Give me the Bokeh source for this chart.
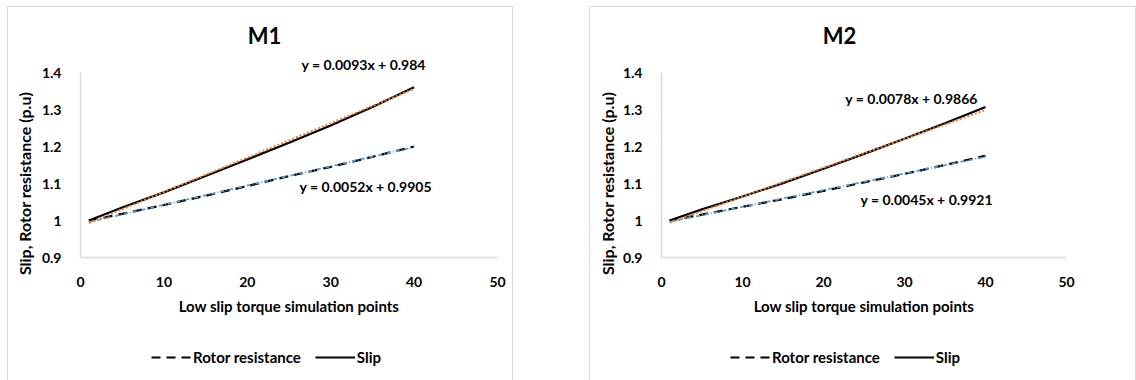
import math
from bokeh.plotting import figure
from bokeh.models import Legend, LegendItem, Label, FixedTicker, Range1d, Spacer
from bokeh.layouts import row, column
from bokeh.embed import file_html
from bokeh.resources import INLINE

# ---- data ----
x_points = [1, 5, 10, 15, 20, 25, 30, 35, 40]
m1_slip = [1.000, 1.035, 1.076, 1.120, 1.165, 1.210, 1.257, 1.307, 1.360]
m1_rotor = [1.000, 1.018, 1.042, 1.067, 1.093, 1.120, 1.145, 1.172, 1.200]
m2_slip = [1.000, 1.030, 1.065, 1.101, 1.140, 1.180, 1.221, 1.263, 1.307]
m2_rotor = [1.000, 1.016, 1.037, 1.058, 1.080, 1.103, 1.126, 1.150, 1.175]
m1_slip_fit = (0.0093, 0.984)
m1_rotor_fit = (0.0052, 0.9905)
m2_slip_fit = (0.0078, 0.9866)
m2_rotor_fit = (0.0045, 0.9921)
titles = ["M1", "M2"]
series_names = ["Rotor resistance", "Slip"]
x_ticks = [0, 10, 20, 30, 40, 50]
y_ticks = [0.9, 1.0, 1.1, 1.2, 1.3, 1.4]
y_tick_labels = ["0.9", "1", "1.1", "1.2", "1.3", "1.4"]
x_title = "Low slip torque simulation points"
y_title = "Slip, Rotor resistance (p.u)"

FONT = "Lato"
TXT = "#000000"
GRIDC = "#d9d9d9"
FIG_H = 374           # figure height (page y 6..380)
AX_TOP_PX = 65        # pixel offset of y=1.4 from figure top
AX_BOT_PX = 250       # pixel offset of y=0.9 from figure top


def eq_text(fit):
    s, b = fit
    return "y = %gx + %g" % (s, b)


def panel(title, slip, rotor, slip_fit, rotor_fit, width, left, frame_w,
          title_x, slip_eq_pos, rotor_eq_pos, legend_x, ytitle_px):
    y0, y1 = y_ticks[0], y_ticks[-1]
    x0, x1 = x_ticks[0], x_ticks[-1]
    upp = (y1 - y0) / (AX_BOT_PX - AX_TOP_PX)
    xpp = (x1 - x0) / frame_w
    p = figure(width=width, height=FIG_H, output_backend="svg",
               toolbar_location=None,
               x_range=Range1d(x0 - left * xpp, x1 + (width - left - frame_w) * xpp),
               y_range=Range1d(y0 - (FIG_H - AX_BOT_PX) * upp, y1 + AX_TOP_PX * upp),
               min_border=0)
    p.styles = {"border-left": "1px solid #d9d9d9", "border-top": "1px solid #d9d9d9",
                "border-right": "1px solid #d9d9d9"}
    p.outline_line_color = None
    p.xgrid.visible = False
    p.ygrid.visible = False
    for ax in (p.xaxis[0], p.yaxis[0]):
        ax.axis_line_color = GRIDC
        ax.axis_line_width = 1.5
        ax.major_tick_line_color = None
        ax.minor_tick_line_color = None
        ax.major_label_text_font = FONT
        ax.major_label_text_font_style = "bold"
        ax.major_label_text_font_size = "14px"
        ax.major_label_text_color = TXT
        ax.axis_label_text_font = FONT
        ax.axis_label_text_font_style = "bold"
        ax.axis_label_text_font_size = "15px"
        ax.axis_label_text_color = TXT
    p.xaxis.fixed_location = y0
    p.yaxis.fixed_location = x0
    p.xaxis.bounds = (x0, x1)
    p.yaxis.bounds = (y0, y1)
    p.xaxis.ticker = FixedTicker(ticks=x_ticks)
    p.yaxis.ticker = FixedTicker(ticks=y_ticks)
    p.yaxis.major_label_overrides = {t: l for t, l in zip(y_ticks, y_tick_labels)}
    p.xaxis.major_label_standoff = 13
    p.yaxis.major_label_standoff = 13
    p.xaxis.axis_label = x_title
    p.xaxis.axis_label_standoff = 7

    # y axis title placed as a rotated label (centered like the reference)
    p.add_layout(Label(x=x0 - (left - ytitle_px) * xpp, y=y1 - 111 * upp,
                       text=y_title, angle=math.pi / 2, text_font=FONT,
                       text_font_style="bold", text_font_size="16px",
                       text_color=TXT, text_align="center", text_baseline="middle"))

    r_rotor = p.line(x_points, rotor, line_color="black", line_width=2.2,
                     line_dash="9 6")
    r_slip = p.line(x_points, slip, line_color="black", line_width=2.2)
    xs = [x_points[0], x_points[-1]]
    p.line(xs, [rotor_fit[0] * v + rotor_fit[1] for v in xs],
           line_color="#5B9BD5", line_width=1.8, line_dash="4 2 1 2")
    p.line(xs, [slip_fit[0] * v + slip_fit[1] for v in xs],
           line_color="#ED7D31", line_width=2, line_dash="2 2")

    p.add_layout(Label(x=title_x, y=y1 + 37 * upp, text=title, text_font=FONT,
                       text_font_style="bold", text_font_size="22px",
                       text_color=TXT, text_align="center",
                       text_baseline="middle"))
    for pos, fit in ((slip_eq_pos, slip_fit), (rotor_eq_pos, rotor_fit)):
        p.add_layout(Label(x=pos[0], y=pos[1], text=eq_text(fit), text_font=FONT,
                           text_font_style="bold", text_font_size="14px",
                           text_color=TXT, text_align="left",
                           text_baseline="middle"))

    leg = Legend(items=[LegendItem(label=series_names[0], renderers=[r_rotor]),
                        LegendItem(label=series_names[1], renderers=[r_slip])],
                 orientation="horizontal", location=(legend_x, 15),
                 glyph_width=40, glyph_height=18, label_standoff=2,
                 spacing=14, padding=0, margin=0,
                 border_line_color=None, background_fill_alpha=0,
                 label_text_font=FONT, label_text_font_style="bold",
                 label_text_font_size="15px", label_text_color=TXT)
    p.add_layout(leg, "center")
    return p


p1 = panel(titles[0], m1_slip, m1_rotor, m1_slip_fit, m1_rotor_fit,
           width=506, left=72, frame_w=417, title_x=22.06,
           slip_eq_pos=(26.5, 1.4216), rotor_eq_pos=(26.26, 1.0919), legend_x=143,
           ytitle_px=16)
p2 = panel(titles[1], m2_slip, m2_rotor, m2_slip_fit, m2_rotor_fit,
           width=547, left=71, frame_w=405, title_x=21.98,
           slip_eq_pos=(22.7, 1.3297), rotor_eq_pos=(24.57, 1.0568), legend_x=140,
           ytitle_px=17)

layout = column(Spacer(height=6),
                row(Spacer(width=7), p1, Spacer(width=76), p2))
open("out.html", "w").write(file_html(layout, INLINE))
